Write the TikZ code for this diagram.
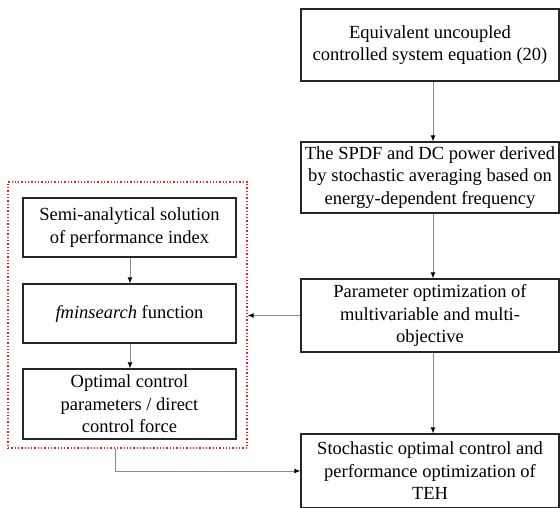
\documentclass[tikz,border=0pt]{standalone}
\usepackage{fontspec}
\setmainfont{Liberation Serif}
\usetikzlibrary{arrows.meta}
\begin{document}
\begin{tikzpicture}[x=1pt,y=-1pt,
  box/.style={draw=black!85, line width=1.3pt, fill=white, align=center, inner sep=0pt,
    font=\fontsize{18.5}{22.5}\selectfont, minimum width=258pt},
  ibox/.style={box, minimum width=213pt},
  conn/.style={draw=black!45, line width=1pt},
  arr/.style={conn, -{Latex[color=black, length=6pt, width=5pt]}},
  redbox/.style={draw=red!90, dotted, line width=1.3pt, minimum width=239pt, minimum height=266pt, inner sep=0pt}]
\clip (0,0) rectangle (560,507);
\useasboundingbox (0,0) rectangle (560,507);
% right column
\node[box, minimum height=72pt] (eq) at (430,45) {Equivalent uncoupled\\controlled system equation (20)};
\node[box, minimum height=71pt] (spdf) at (430,177.5) {The SPDF and DC power derived\\by stochastic averaging based on\\energy-dependent frequency};
\node[box, minimum height=73pt] (par) at (430,315.5) {Parameter optimization of\\multivariable and multi-\\objective};
\node[box, minimum height=74pt] (teh) at (430,471) {Stochastic optimal control and\\performance optimization of\\TEH};
% left group
\node[redbox] (grp) at (127.5,315) {};
\node[ibox, minimum height=59pt] (semi) at (129.5,227.5) {Semi-analytical solution\\of performance index};
\node[ibox, minimum height=59pt] (fmin) at (129.5,313.5) {\textit{fminsearch} function};
\node[ibox, minimum height=70pt] (opt) at (129.5,404) {Optimal control\\parameters / direct\\control force};
% connectors
\coordinate (rx) at (433,0);
\coordinate (lx) at (130,0);
\coordinate (bx) at (115,0);
\draw[arr] (eq.south -| rx) -- (spdf.north -| rx);
\draw[arr] (spdf.south -| rx) -- (par.north -| rx);
\draw[arr] (par.south -| rx) -- (teh.north -| rx);
\draw[arr] (semi.south -| lx) -- (fmin.north -| lx);
\draw[arr] (fmin.south -| lx) -- (opt.north -| lx);
\draw[arr] (par.west) -- (par.west -| grp.east);
\draw[arr] (grp.south -| bx) |- (teh.west);
\end{tikzpicture}
\end{document}
